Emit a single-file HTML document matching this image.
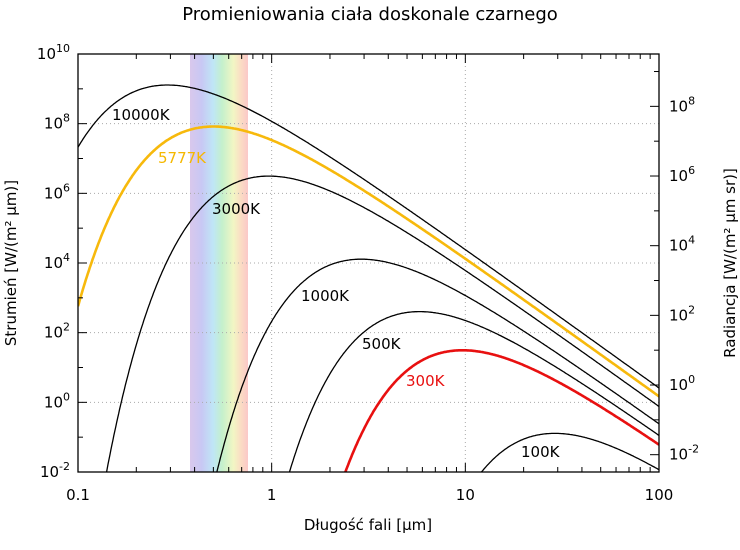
<!DOCTYPE html>
<html><head><meta charset="utf-8"><style>
body{margin:0;background:#fff}
svg text{font-family:"DejaVu Sans","Liberation Sans",sans-serif;}
</style></head><body>
<svg id="s" width="740" height="545" xmlns="http://www.w3.org/2000/svg">
<defs>
<linearGradient id="sp" x1="0" x2="1" y1="0" y2="0">
<stop offset="0" stop-color="#d9c8ec"/>
<stop offset="0.2" stop-color="#c8c8f4"/>
<stop offset="0.4" stop-color="#bfe6f6"/>
<stop offset="0.55" stop-color="#c4f0cc"/>
<stop offset="0.75" stop-color="#f2f6c4"/>
<stop offset="0.88" stop-color="#fbdcc4"/>
<stop offset="1" stop-color="#fbc8c8"/>
</linearGradient>
<clipPath id="c"><rect x="78" y="54" width="581" height="418"/></clipPath>
</defs>
<rect x="190" y="54" width="58" height="418" fill="url(#sp)"/>
<g id="g"></g>
<text x="370" y="20" font-size="18" text-anchor="middle">Promieniowania ciała doskonale czarnego</text>
<text x="368" y="530" font-size="15" text-anchor="middle">Długość fali [μm]</text>
<text transform="translate(16,263) rotate(-90)" font-size="15" text-anchor="middle">Strumień [W/(m² μm)]</text>
<text transform="translate(735,263) rotate(-90)" font-size="15" text-anchor="middle">Radiancja [W/(m² μm sr)]</text>
<g font-size="15">
<text x="112" y="120">10000K</text>
<text x="158" y="163" fill="#f5b800">5777K</text>
<text x="212" y="214">3000K</text>
<text x="301" y="301">1000K</text>
<text x="362" y="349">500K</text>
<text x="406" y="386" fill="#e81010">300K</text>
<text x="521" y="457">100K</text>
</g>
</svg>
<script>
var L=78,R=659,T=54,B=472,dx=(R-L)/3,dy=(B-T)/12;
function X(l){return L+(Math.log10(l)+1)*dx}
function Y(v){return B-(Math.log10(v)+2)*dy}
var h='';
// grid
[1,10].forEach(function(l){h+='<line x1="'+X(l)+'" x2="'+X(l)+'" y1="'+T+'" y2="'+B+'" stroke="#aaa" stroke-dasharray="1,3"/>'});
for(var e=0;e<=8;e+=2){h+='<line x1="'+L+'" x2="'+R+'" y1="'+Y(Math.pow(10,e))+'" y2="'+Y(Math.pow(10,e))+'" stroke="#aaa" stroke-dasharray="1,3"/>'}
// curves
var Ts=[[10000,'#000',1.3],[5777,'#f7b90c',2.6],[3000,'#000',1.3],[1000,'#000',1.3],[500,'#000',1.3],[300,'#e81010',2.6],[100,'#000',1.3]];
Ts.forEach(function(t){var p='';for(var i=0;i<=600;i++){var l=Math.pow(10,-1+3*i/600);var m=3.7418e8/Math.pow(l,5)/(Math.exp(14388/(l*t[0]))-1);if(!(m>1e-4))continue;var y=Y(m);if(y>B+50)y=B+50;p+=(p?'L':'M')+X(l).toFixed(1)+','+y.toFixed(1)}
h+='<path d="'+p+'" fill="none" stroke="'+t[1]+'" stroke-width="'+t[2]+'" clip-path="url(#c)"/>'});
// frame
h+='<rect x="'+L+'" y="'+T+'" width="'+(R-L)+'" height="'+(B-T)+'" fill="none" stroke="#000" stroke-width="1.3"/>';
// x ticks
for(var d=-1;d<2;d++)for(var k=1;k<10;k++){var x=X(k*Math.pow(10,d));var len=k==1?9:5;h+='<line x1="'+x+'" x2="'+x+'" y1="'+B+'" y2="'+(B-len)+'" stroke="#000"/><line x1="'+x+'" x2="'+x+'" y1="'+T+'" y2="'+(T+len)+'" stroke="#000"/>'}
[['0.1',0.1],['1',1],['10',10],['100',100]].forEach(function(a){h+='<text x="'+X(a[1])+'" y="500" font-size="15" text-anchor="middle">'+a[0]+'</text>'});
// left y
for(var e=-2;e<=10;e++){var y=Y(Math.pow(10,e));var len=e%2==0?9:5;h+='<line x1="'+L+'" x2="'+(L+len)+'" y1="'+y+'" y2="'+y+'" stroke="#000"/>';if(e%2==0)h+='<text x="'+(L-8)+'" y="'+(y+5)+'" font-size="15" text-anchor="end">10<tspan font-size="11" dy="-7">'+(e<0?'-'+(-e):e)+'</tspan></text>'}
// right y (radiance = flux/pi)
for(var e=-3;e<=9;e++){var y=Y(Math.pow(10,e)*Math.PI);if(y<T||y>B)continue;var len=e%2==0?9:5;h+='<line x1="'+R+'" x2="'+(R-len)+'" y1="'+y+'" y2="'+y+'" stroke="#000"/>';if(e%2==0)h+='<text x="'+(R+10)+'" y="'+(y+5)+'" font-size="15">10<tspan font-size="11" dy="-7">'+(e<0?'-'+(-e):e)+'</tspan></text>'}
document.getElementById('g').innerHTML=h;
</script>
</body></html>
